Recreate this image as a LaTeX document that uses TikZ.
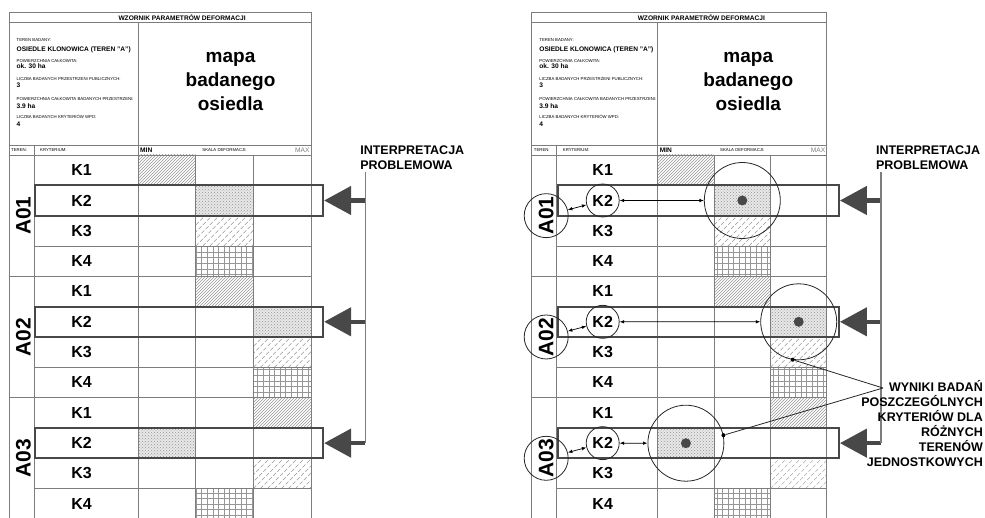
\documentclass[tikz,border=0pt]{standalone}
\usepackage{fontspec}
\setmainfont{Liberation Sans}
\usetikzlibrary{arrows.meta,patterns,positioning}
\definecolor{linia}{RGB}{125,125,125}
\definecolor{ciemny}{RGB}{72,72,72}
\definecolor{kreska}{RGB}{150,150,150}

\begin{document}
\begin{tikzpicture}[x=1pt,y=-1pt,
  tabela/.style={draw=linia,line width=0.9pt},
  kratka/.style={draw=kreska,line width=0.4pt,step=5.6pt},
  przerywana/.style={draw=kreska,line width=0.5pt,dash pattern=on 4pt off 2pt},
  ramka/.style={draw=ciemny,line width=2pt,minimum height=30.33pt,inner sep=0pt,anchor=west},
  strzalka/.style={draw=ciemny,line width=4.5pt,-{Triangle[length=27pt,width=28pt]}},
  pion/.style={draw=linia,line width=1.2pt},
  kryt/.style={font=\fontsize{16}{18}\selectfont\bfseries,inner sep=0pt},
  teren/.style={font=\fontsize{21}{24}\selectfont\bfseries,rotate=90,inner sep=0pt},
  maly/.style={font=\fontsize{4.3}{5}\selectfont,inner sep=0pt,anchor=base west},
  wart/.style={font=\fontsize{6.6}{8}\selectfont\bfseries,inner sep=0pt,anchor=base west},
  tytul/.style={font=\fontsize{6.6}{8}\selectfont\bfseries,inner sep=0pt},
  mapa/.style={font=\fontsize{19}{24}\selectfont\bfseries,align=center,inner sep=0pt},
  opis/.style={font=\fontsize{12.5}{15}\selectfont\bfseries,inner sep=0pt},
  kolko/.style={circle,draw=black!85,line width=0.8pt,inner sep=0pt},
  punkt/.style={circle,fill=ciemny,inner sep=0pt,minimum size=10pt},
  kropka/.style={circle,fill=black,inner sep=0pt,minimum size=4pt},
  dwu/.style={{Latex[length=4.5pt,width=3.5pt]}-{Latex[length=4.5pt,width=3.5pt]},line width=0.7pt},
  cienka/.style={draw=black!85,line width=0.8pt}]
\useasboundingbox (0,0) rectangle (985,518);

% dwa wzorniki: lewy bez interpretacji, prawy z wynikami
\foreach \xo/\xt/\xk/\xw/\pn in {9/34/138/57.7/L,531.7/556.7/657.7/56.4/R}{
  \pgfmathsetmacro\xr{\xk+3*\xw}
  % kreskowanie komorek skali
  \foreach \kol/\wie in {0/0,1/4,2/8}
    \fill[pattern=north east lines,pattern color=kreska] ({\xk+\kol*\xw},{155+30.33*\wie}) rectangle ++(\xw,30.33);
  \foreach \kol/\wie in {1/1,2/5,0/9}
    \fill[black!9,postaction={pattern=crosshatch dots,pattern color=kreska}] ({\xk+\kol*\xw},{155+30.33*\wie}) rectangle ++(\xw,30.33);
  \foreach \kol/\wie in {1/2,2/6,2/10}{
    \begin{scope}
      \clip ({\xk+\kol*\xw},{155+30.33*\wie}) rectangle ++(\xw,30.33);
      \foreach \sx in {-35,-28,...,63}
        \draw[przerywana] ({\xk+\kol*\xw+\sx},{155+30.33*(\wie+1)}) -- ++(33,-33);
    \end{scope}}
  \foreach \kol/\wie in {1/3,2/7,1/11}
    \draw[kratka] ({\xk+\kol*\xw},{155+30.33*\wie}) grid ++(\xw,30.33);

  % linie tabeli
  \draw[tabela] (\xo,12.5) rectangle (\xr,519);
  \draw[tabela] (\xo,22) -- (\xr,22) (\xo,145) -- (\xr,145) (\xo,155) -- (\xr,155);
  \draw[tabela] (\xk,22) -- (\xk,519) (\xt,145) -- (\xt,519);
  \draw[tabela] ({\xk+\xw},155) -- ({\xk+\xw},519) ({\xk+2*\xw},155) -- ({\xk+2*\xw},519);
  \foreach \wie in {1,...,11}
    \draw[tabela] (\xt,{155+30.33*\wie}) -- (\xr,{155+30.33*\wie});
  \foreach \wie in {4,8}
    \draw[tabela] (\xo,{155+30.33*\wie}) -- (\xt,{155+30.33*\wie});

  % naglowek
  \node[tytul] (tytul-\pn) at ({(\xo+\xr)/2+22},17.3) {WZORNIK PARAMETRÓW DEFORMACJI};
  \foreach \yy/\txt/\st [count=\i] in {41.5/{TEREN BADANY:}/maly,
      51.5/{OSIEDLE KLONOWICA (TEREN "A")}/wart,
      62.5/{POWIERZCHNIA CAŁKOWITA:}/maly,
      68.5/{ok. 30 ha}/wart,
      81/{LICZBA BADANYCH PRZESTRZENI PUBLICZNYCH:}/maly,
      87.5/{3}/wart,
      100.5/{POWIERZCHNIA CAŁKOWITA BADANYCH PRZESTRZENI:}/maly,
      109/{3.9 ha}/wart,
      118.8/{LICZBA BADANYCH KRYTERIÓW WPD:}/maly,
      127/{4}/wart}
    \node[\st] (info\i-\pn) at ({\xo+7.5},\yy) {\txt};
  \node[mapa] (mapa-\pn) at ({(\xk+\xr)/2+6},81.5) {mapa\\badanego\\osiedla};
  \node[maly,anchor=west] (hteren-\pn) at ({\xo+2},150) {TEREN:};
  \node[maly,anchor=west] (hkryt-\pn) at ({\xt+6},150) {KRYTERIUM:};
  \node[wart,anchor=west] (hmin-\pn) at ({\xk+2},150) {MIN};
  \node[maly,anchor=center] (hskala-\pn) at ({\xk+1.5*\xw},150) {SKALA DEFORMACJI:};
  \node[font=\fontsize{6.6}{8}\selectfont,text=linia,inner sep=0pt,anchor=east] (hmax-\pn) at ({\xr-1.5},150) {MAX};

  % tereny i kryteria
  \foreach \g/\tn in {0/A01,1/A02,2/A03}{
    \node[teren] (\tn-\pn) at ({(\xo+\xt)/2+2},{155+30.33*(4*\g+2)}) {\tn};
    \foreach \k in {1,...,4}
      \node[kryt] (K\k-\tn-\pn) at ({(\xt+\xk)/2-4.5},{155+30.33*(4*\g+\k-0.5)}) {K\k};
    \node[ramka,minimum width={\xr+11-\xt}] (ramka-\tn-\pn) at (\xt,{155+30.33*(4*\g+1.5)}) {};
    \coordinate (v-\tn-\pn) at ({\xr+54},{155+30.33*(4*\g+1.5)});
    \draw[strzalka] (v-\tn-\pn) -- (ramka-\tn-\pn.east);
  }
  \coordinate (gora-\pn) at ({\xr+54},172);
  \draw[pion] (gora-\pn) -- (v-A03-\pn);
  \node[opis,align=left,anchor=south west] (interp-\pn) at ({\xr+49},169.5) {INTERPRETACJA\\PROBLEMOWA};
}

% wyniki na prawym wzorniku
\foreach \tn/\xx/\yy in {A01/742.3/200.5,A02/798.7/321.8,A03/685.9/443.2}{
  \node[kolko,minimum size=44pt] (o-\tn) at (\tn-R) {};
  \node[kolko,minimum size=33pt] (o-K2-\tn) at (K2-\tn-R) {};
  \node[kolko,minimum size=76pt] (duzy-\tn) at (\xx,\yy) {};
  \node[punkt] (p-\tn) at (duzy-\tn) {};
  \draw[dwu] (o-\tn) -- (o-K2-\tn);
  \draw[dwu] (o-K2-\tn) -- (duzy-\tn);
}
\node[kropka] (k-A02) at (duzy-A02.261) {};
\node[kropka] (k-A03) at (duzy-A03.12) {};
\coordinate (zbieg) at (883,388);
\draw[cienka] (k-A02) -- (zbieg);
\draw[cienka] (k-A03) -- (zbieg);
\node[opis,align=right,anchor=north east] (wyniki) at (983,380) {WYNIKI BADAŃ\\POSZCZEGÓLNYCH\\KRYTERIÓW DLA\\RÓŻNYCH\\TERENÓW\\JEDNOSTKOWYCH};

\end{tikzpicture}
\end{document}
